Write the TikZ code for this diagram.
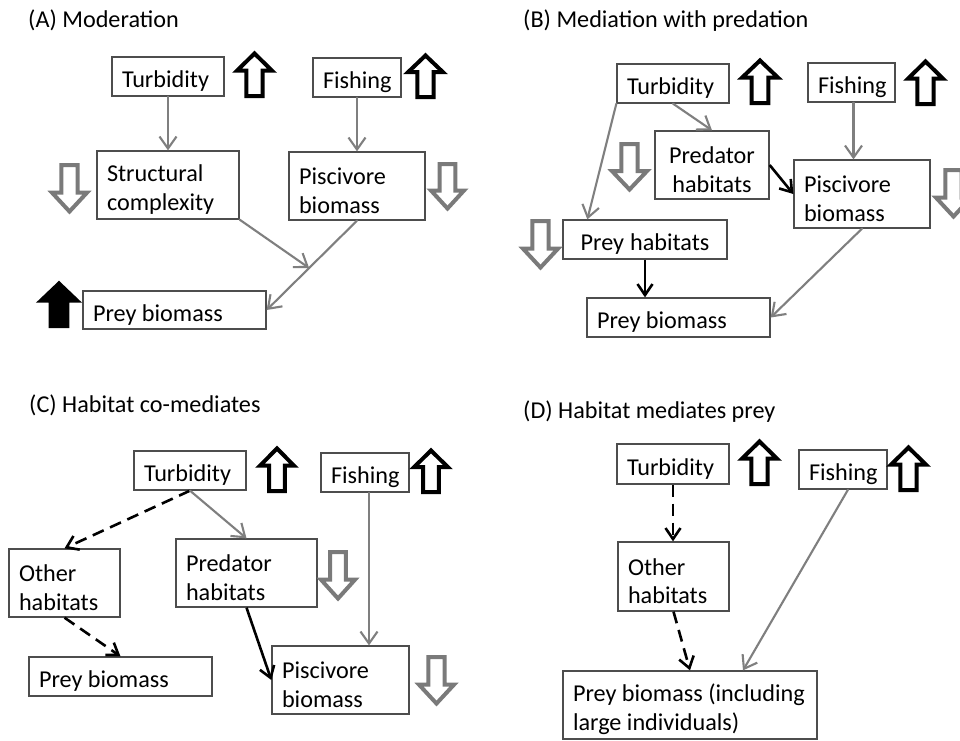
\documentclass[tikz,border=0pt]{standalone}
\usepackage{fontspec}
\setmainfont{Carlito}
\usetikzlibrary{arrows.meta,calc}
\definecolor{garr}{HTML}{7F7F7F}
\definecolor{gblk}{HTML}{7A7A7A}
\definecolor{bord}{HTML}{4D4D4D}
\tikzset{
 box/.style={draw=bord, line width=1.3pt, inner xsep=10pt, inner ysep=0pt, font=\fontsize{24.2}{28.5}\selectfont},
 gline/.style={draw=garr, line width=2.1pt, line cap=round, -{Straight Barb[length=12pt,width=17pt]}},
 kline/.style={draw=black, line width=2.6pt, -{Straight Barb[length=11pt,width=15pt]}},
 dline/.style={kline, dash pattern=on 12pt off 7pt},
 ttl/.style={anchor=base west, inner sep=0pt, font=\fontsize{24.2}{28.5}\selectfont},
 upk/.style={draw=black, line width=4pt, fill=white},
 upf/.style={draw=black, line width=4pt, fill=black},
 dng/.style={draw=gblk, line width=4pt, fill=white},
}
\newcommand\mybox[7]{%
 \pgfmathsetmacro\mbw{#4-#2-20}\pgfmathsetmacro\mbh{#5-#3}\pgfmathsetmacro\mbW{#4-#2}%
 \node[box, text width=\mbw pt, minimum width=\mbW pt, minimum height=\mbh pt, align=#6] (#1) at ({(#2+#4)/2},{(#3+#5)/2}) {\spaceskip=0pt\xspaceskip=0pt\relax\rule{0pt}{26pt}#7};}
\newcommand\arrup[5]{%
 \pgfmathsetmacro\cxx{(#1+#3)/2}\pgfmathsetmacro\hww{0.19*(#3-#1)}\pgfmathsetmacro\hby{#2+0.43*(#4-#2)}%
 \draw[#5] ({\cxx},{#2+3.5}) -- ({#3-4},{\hby}) -- ({\cxx+\hww},{\hby}) -- ({\cxx+\hww},{#4-2}) -- ({\cxx-\hww},{#4-2}) -- ({\cxx-\hww},{\hby}) -- ({#1+4},{\hby}) -- cycle;}
\newcommand\arrdn[5]{%
 \pgfmathsetmacro\cxx{(#1+#3)/2}\pgfmathsetmacro\hww{0.19*(#3-#1)}\pgfmathsetmacro\hby{#4-0.43*(#4-#2)}%
 \draw[#5] ({\cxx},{#4-3.5}) -- ({#3-4},{\hby}) -- ({\cxx+\hww},{\hby}) -- ({\cxx+\hww},{#2+2}) -- ({\cxx-\hww},{#2+2}) -- ({\cxx-\hww},{\hby}) -- ({#1+4},{\hby}) -- cycle;}
\begin{document}
\begin{tikzpicture}[x=1pt,y=-1pt]
\useasboundingbox[fill=white] (0,0) rectangle (960,740);
% ---------- (A) ----------
\node[ttl] (titA) at (28,27) {(A) Moderation};
\mybox{tA}{112}{57}{224}{96}{left}{Turbidity}
\mybox{fA}{313}{58}{401}{97}{left}{Fishing}
\mybox{sA}{97}{151}{239}{219}{left}{Structural\\complexity}
\mybox{pA}{289}{152}{425}{220}{left}{Piscivore\\biomass}
\mybox{prA}{83}{291}{266}{329}{left}{Prey biomass}
\arrup{233}{50}{276}{98}{upk}
\arrup{404}{52}{447}{99}{upk}
\arrdn{48}{163}{91}{215}{dng}
\arrdn{427}{162}{468}{212}{dng}
\arrup{37}{280}{81}{328}{upf}
\coordinate (mA) at ($(pA.south)!0.53!(prA.east)$);
\draw[gline] (tA.south) -- (sA.north);
\draw[gline] (fA.south) -- (pA.north);
\draw[gline] (sA.south east) -- (mA);
\draw[gline] (pA.south) -- (prA.east);
% ---------- (B) ----------
\node[ttl] (titB) at (523,27) {(B) Mediation with predation};
\mybox{tB}{617}{64}{729}{103}{left}{Turbidity}
\mybox{fB}{808}{63}{895}{102}{left}{Fishing}
\mybox{predB}{655}{131}{769}{199}{center}{Predator\\habitats}
\mybox{piscB}{794}{160}{930}{228}{left}{Piscivore\\biomass}
\mybox{phB}{563}{220}{727}{259}{center}{Prey habitats}
\mybox{prB}{587}{298}{770}{337}{left}{Prey biomass}
\arrup{738}{57}{782}{105}{upk}
\arrup{904}{58}{947}{106}{upk}
\arrdn{608}{142}{651}{193}{dng}
\arrdn{932}{168}{975}{220}{dng}
\arrdn{519}{219}{562}{271}{dng}
\draw[gline] (tB.south west) -- ([xshift=25pt]phB.north west);
\draw[gline] (tB.south) -- (predB.north);
\draw[kline] (predB.east) -- (piscB.west);
\draw[gline] ([xshift=2pt]fB.south) -- ([xshift=2pt]fB.south |- piscB.north);
\draw[kline] (phB.south) -- (phB.south |- prB.north);
\draw[gline] (piscB.south) -- (prB.east);
% ---------- (C) ----------
\node[ttl] (titC) at (29,412) {(C) Habitat co-mediates};
\mybox{tC}{134}{451}{246}{490}{left}{Turbidity}
\mybox{fC}{321}{453}{409}{492}{left}{Fishing}
\mybox{oC}{9}{549}{120}{617}{left}{Other\\habitats}
\mybox{predC}{176}{539}{317}{607}{left}{Predator\\habitats}
\mybox{prC}{29}{657}{212}{696}{left}{Prey biomass}
\mybox{piscC}{272}{646}{409}{714}{left}{Piscivore\\biomass}
\arrup{256}{445}{298}{493}{upk}
\arrup{410}{447}{452}{494}{upk}
\arrdn{317}{550}{359}{602}{dng}
\arrdn{415}{655}{458}{707}{dng}
\draw[dline] (tC.south) -- (oC.north);
\draw[gline] (tC.south) -- (predC.north);
\draw[kline] (predC.south) -- (piscC.west);
\draw[gline] ([xshift=4pt]fC.south) -- ([xshift=4pt]fC.south |- piscC.north);
\draw[dline] (oC.south) -- (prC.north);
% ---------- (D) ----------
\node[ttl] (titD) at (523,418) {(D) Habitat mediates prey};
\mybox{tD}{617}{444}{729}{484}{left}{Turbidity}
\mybox{fD}{799}{450}{887}{489}{left}{Fishing}
\mybox{oD}{618}{542}{729}{611}{left}{Other\\habitats}
\mybox{prD}{563}{671}{817}{739}{left}{\mbox{Prey biomass (including}\\\mbox{large individuals)}}
\arrup{738}{438}{781}{486}{upk}
\arrup{887}{444}{930}{492}{upk}
\draw[dline] (tD.south) -- (tD.south |- oD.north);
\draw[dline] (oD.south) -- (prD.north);
\draw[gline] ([xshift=5pt]fD.south) -- ([xshift=53pt]prD.north);
\end{tikzpicture}
\end{document}
